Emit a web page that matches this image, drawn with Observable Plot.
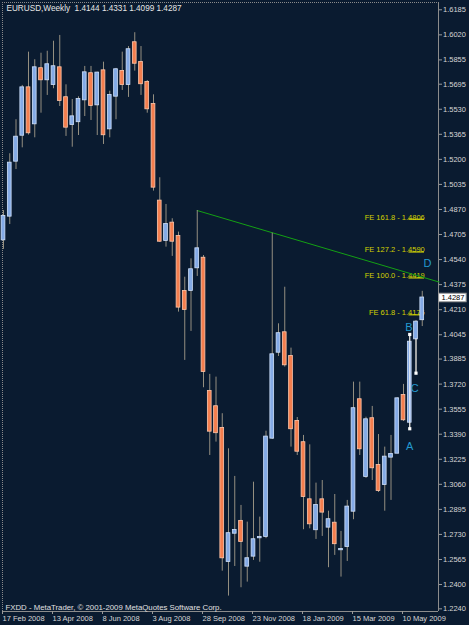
<!DOCTYPE html>
<html><head><meta charset="utf-8">
<script src="https://cdn.jsdelivr.net/npm/d3@7"></script>
<script src="https://cdn.jsdelivr.net/npm/@observablehq/plot@0.6"></script>
<style>
html,body{margin:0;padding:0;background:#0a1b30;}
#chart svg{display:block;}
</style></head><body><div id="chart"></div>
<script>
// Weekly EURUSD candles, week of 17 Feb 2008 (index 0) to week of 31 May 2009 (index 67)
const open  = [1.4670,1.4826,1.5188,1.5359,1.5671,1.5434,1.5797,1.5724,1.5693,1.5803,
               1.5606,1.5430,1.5448,1.5592,1.5764,1.5559,1.5783,1.5401,1.5616,1.5779,
               1.5693,1.5968,1.5838,1.5706,1.5561,1.4925,1.4666,1.4780,1.4692,1.4330,
               1.4337,1.4486,1.4549,1.3672,1.3571,1.3428,1.2552,1.2738,1.2816,1.2521,
               1.2587,1.2708,1.2717,1.3364,1.3930,1.4058,1.3902,1.3474,1.3334,1.2958,
               1.2761,1.2958,1.2778,1.2804,1.2629,1.2651,1.2883,1.3617,1.3112,1.3492,
               1.3184,1.3059,1.3239,1.3265,1.3645,1.3469,1.4018,1.4144];
const high  = [1.4863,1.5237,1.5461,1.5687,1.5906,1.5856,1.5899,1.5912,1.5978,1.6016,
               1.5691,1.5594,1.5612,1.5812,1.5812,1.5774,1.5840,1.5649,1.5799,1.5906,
               1.5943,1.6034,1.5943,1.5719,1.5625,1.5079,1.4903,1.4809,1.4721,1.4424,
               1.4545,1.4863,1.4567,1.3784,1.3766,1.3525,1.3294,1.3112,1.2921,1.2811,
               1.3074,1.2844,1.3410,1.4714,1.4117,1.4358,1.3957,1.3500,1.3382,1.3320,
               1.3068,1.3085,1.2883,1.2993,1.2750,1.2954,1.3733,1.3733,1.3502,1.3573,
               1.3388,1.3305,1.3382,1.3630,1.3718,1.4047,1.4139,1.4331];
const low   = [1.4607,1.4771,1.5133,1.5276,1.5360,1.5342,1.5504,1.5621,1.5665,1.5548,
               1.5351,1.5280,1.5357,1.5482,1.5456,1.5357,1.5298,1.5342,1.5461,1.5654,
               1.5608,1.5781,1.5621,1.5504,1.4991,1.4653,1.4622,1.4561,1.4194,1.3876,
               1.4067,1.4429,1.3696,1.3250,1.3338,1.2488,1.2324,1.2519,1.2379,1.2416,
               1.2559,1.2547,1.2702,1.3355,1.3902,1.3832,1.3305,1.3250,1.2761,1.2767,
               1.2697,1.2717,1.2511,1.2592,1.2449,1.2552,1.2827,1.3250,1.3099,1.3085,
               1.3006,1.2883,1.2954,1.3261,1.3474,1.3426,1.3792,1.4099];
const close = [1.4824,1.5175,1.5346,1.5671,1.5375,1.5803,1.5724,1.5823,1.5810,1.5588,
               1.5412,1.5480,1.5594,1.5770,1.5555,1.5768,1.5362,1.5621,1.5790,1.5693,
               1.5922,1.5833,1.5698,1.5533,1.5017,1.4661,1.4771,1.4661,1.4227,1.4212,
               1.4473,1.4611,1.3803,1.3410,1.3400,1.2576,1.2735,1.2756,1.2684,1.2570,
               1.2695,1.2710,1.3371,1.3913,1.4052,1.3847,1.3426,1.3278,1.2980,1.2800,
               1.2921,1.2877,1.2827,1.2669,1.2631,1.2910,1.3558,1.3294,1.3485,1.3169,
               1.3020,1.3239,1.3257,1.3623,1.3485,1.3996,1.4128,1.4287];

const dateTickIndex  = [0, 8, 16, 24, 32, 40, 48, 56, 64];
const dateTickLabels = ["17 Feb 2008","13 Apr 2008","8 Jun 2008","3 Aug 2008","28 Sep 2008",
                        "23 Nov 2008","18 Jan 2009","15 Mar 2009","10 May 2009"];
const priceTicks = [1.6185,1.6020,1.5855,1.5695,1.5530,1.5365,1.5200,1.5035,1.4870,1.4705,
                    1.4540,1.4375,1.4210,1.4045,1.3885,1.3720,1.3555,1.3390,1.3225,1.3060,
                    1.2895,1.2730,1.2565,1.2400,1.2240];

// Trend line through the highs (index, price)
const trendIndex = [31, 69.7];
const trendPrice = [1.4863, 1.4392];

// Fibonacci expansion levels
const feLabels = ["FE 161.8 - 1.4806","FE 127.2 - 1.4590","FE 100.0 - 1.4419","FE 61.8 - 1.4176"];
const fePrices = [1.4806, 1.4590, 1.4419, 1.4176];

// ABC pattern points and labels
const abcPointName  = ["A","B","C"];
const abcPointIndex = [65, 65, 66];
const abcPointPrice = [1.3426, 1.4047, 1.3792];
const letterNames  = ["A","B","C","D"];
const letterIndex  = [65, 64.85, 65.8, 67.84];
const letterPrice  = [1.3311, 1.4095, 1.3689, 1.4512];

const headerText = "EURUSD,Weekly\u00a0\u00a01.4144 1.4331 1.4099 1.4287";
const footerText = "FXDD - MetaTrader, \u00a9 2001-2009 MetaQuotes Software Corp.";

// ---- build tables ----
const candles = open.map((o, i) => ({i, open: o, high: high[i], low: low[i], close: close[i], up: close[i] >= o}));
const last = candles[candles.length - 1];
const trend = trendIndex.map((x, k) => ({i: x, p: trendPrice[k]}));
const fe = feLabels.map((t, k) => ({label: t, p: fePrices[k]}));
const abc = abcPointName.map((n, k) => ({name: n, i: abcPointIndex[k], p: abcPointPrice[k]}));
const letters = letterNames.map((n, k) => ({name: n, i: letterIndex[k], p: letterPrice[k]}));
const abcLines = [
  {i: abc[0].i, y1: abc[0].p, y2: abc[1].p},
  {i: abc[2].i, y1: Math.min(candles[abc[2].i].open, candles[abc[2].i].close), y2: abc[2].p}
];

const xDomain = [-0.16, 69.6];
const yDomain = [1.22225, 1.6233];

const bullFill = "#84aae6", bullEdge = "#cfe0fa";
const bearFill = "#f47e4e", bearEdge = "#ffc6aa";
const wick = "#948f80";
const txt = "#d6d6d6";

const chart = Plot.plot({
  width: 469, height: 625,
  marginLeft: 2, marginRight: 31, marginTop: 2, marginBottom: 14,
  style: {background: "#0a1b30", color: txt, fontFamily: "'Liberation Sans', Arial, sans-serif", fontSize: "7.5px"},
  x: {domain: xDomain, axis: null},
  y: {domain: yDomain, axis: null},
  marks: [
    // frame
    Plot.ruleX([xDomain[0]], {stroke: "#8a8a8a", strokeDasharray: "1,1"}),
    Plot.ruleY([yDomain[1]], {stroke: "#8a8a8a", strokeDasharray: "1,1"}),
    Plot.ruleX([xDomain[1]], {stroke: "#8c8c8c"}),
    Plot.ruleY([yDomain[0]], {stroke: "#8c8c8c"}),
    // FE levels
    Plot.ruleY(fe, {y: "p", x1: () => last.i - 2.13, x2: () => last.i + 0.36, stroke: "#f2f200"}),
    Plot.text(fe, {x: () => last.i, y: "p", text: "label", textAnchor: "end", lineAnchor: "bottom", dx: 2.5, dy: 0.5, fill: "#d2d200"}),
    // trend line
    Plot.line(trend, {x: "i", y: "p", stroke: "#14a014", strokeWidth: 1}),
    // candles
    Plot.ruleX(candles, {x: "i", y1: "low", y2: "high", stroke: wick, strokeWidth: 1}),
    Plot.rect(candles, {x1: d => d.i - 0.3, x2: d => d.i + 0.3, y1: "open", y2: "close",
      fill: d => d.up ? bullFill : bearFill, stroke: d => d.up ? bullEdge : bearEdge, strokeWidth: 0.8,
      insetTop: -0.5, insetBottom: -0.5}),
    // ABC pattern
    Plot.ruleX(abcLines, {x: "i", y1: "y1", y2: "y2", stroke: "#f4f4f4", strokeWidth: 1}),
    Plot.dot(abc, {x: "i", y: "p", symbol: "square", r: 1.8, fill: "#ffffff"}),
    Plot.text(letters, {x: "i", y: "p", text: "name", fill: "#2399cf", fontSize: 11}),
    // axes
    Plot.axisY(priceTicks, {anchor: "right", tickSize: 3, tickPadding: 1.5, label: null,
      tickFormat: d => d.toFixed(4), stroke: "#9a9a9a", fill: txt}),
    Plot.axisX(dateTickIndex, {anchor: "bottom", tickSize: 3, tickPadding: 1, label: null,
      tickFormat: d => dateTickLabels[dateTickIndex.indexOf(d)], textAnchor: "start", dx: -1,
      stroke: "#9a9a9a", fill: txt}),
    // current price tag
    Plot.rect([last], {x1: () => xDomain[1] + 0.1, x2: () => xDomain[1] + 4.5,
      y1: d => d.close - 0.0028, y2: d => d.close + 0.0028, fill: "#ffffff", stroke: "#9a9a9a"}),
    Plot.text([last], {x: () => xDomain[1], y: "close", text: d => d.close.toFixed(4), textAnchor: "start", dx: 3, fill: "#000000"}),
    // header & footer
    Plot.text([headerText], {frameAnchor: "top-left", lineAnchor: "top", textAnchor: "start", dx: 4, dy: 3, fill: "#e6e6e6", fontSize: 8.2}),
    Plot.text([footerText], {frameAnchor: "bottom-left", lineAnchor: "bottom", textAnchor: "start", dx: 3, dy: -2, fill: "#e0e0e0", fontSize: 7.8})
  ]
});
document.getElementById("chart").appendChild(chart);
</script>
</body></html>
